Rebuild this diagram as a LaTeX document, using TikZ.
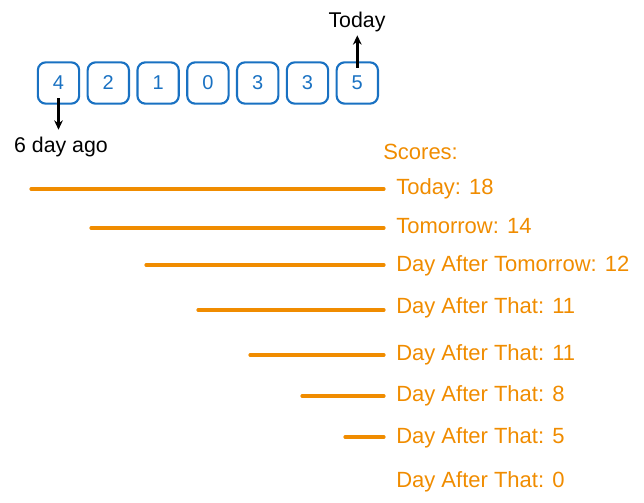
\documentclass[tikz,border=0pt]{standalone}
\usepackage{fontspec}
\setmainfont{Liberation Sans}
\usetikzlibrary{positioning,arrows.meta}
\definecolor{dayblue}{RGB}{25,113,194}
\definecolor{scoreorange}{RGB}{240,140,0}

\begin{document}
\begin{tikzpicture}[
      x=0.75pt, y=-0.75pt, >={Stealth[length=7pt,width=6.5pt]}, node distance=4.75pt,
      day/.style={draw=dayblue, line width=1.6pt, rounded corners=6pt,
                  minimum size=31pt, inner sep=0pt, text=dayblue,
                  font=\fontsize{15}{17}\selectfont},
      note/.style={font=\fontsize{16}{18}\selectfont, text=black},
      score/.style={anchor=west, inner sep=0pt, text=scoreorange,
                    text height=11pt, text depth=3pt,
                    font=\fontsize{16.5}{18}\selectfont},
      bar/.style={draw=scoreorange, line width=2.4pt, line cap=round,
                  shorten >=9pt},
      arr/.style={->, line width=1.8pt, draw=black}
    ]
    \useasboundingbox (0,0) rectangle (644,503);
    % last seven days
    \node[day] (d1) at (58.5,83) {4};
    \node[day, right=of d1] (d2) {2};
    \node[day, right=of d2] (d3) {1};
    \node[day, right=of d3] (d4) {0};
    \node[day, right=of d4] (d5) {3};
    \node[day, right=of d5] (d6) {3};
    \node[day, right=of d6] (d7) {5};
    \node[note] (today) at (357,22) {Today};
    \node[note] (ago) at (61,147) {6 day ago};
    \draw[arr, shorten <=-5pt, shorten >=2pt] (d1.south) -- (d1.south |- ago.north);
    \draw[arr, shorten <=-5pt, shorten >=-1pt] (d7.north) -- (d7.north |- today.south);
    % scores
    \node[score] (scores) at (383,154) {Scores:};
    \node[score] (l1) at (396,189) {Today: 18};
    \node[score] (l2) at (396,228) {Tomorrow: 14};
    \node[score] (l3) at (396,266) {Day After Tomorrow: 12};
    \node[score] (l4) at (396,308) {Day After That: 11};
    \node[score] (l5) at (396,355) {Day After That: 11};
    \node[score] (l6) at (396,396) {Day After That: 8};
    \node[score] (l7) at (396,438) {Day After That: 5};
    \node[score] (l8) at (396,482) {Day After That: 0};
    \coordinate (s1) at (31,189);
    \coordinate (s2) at (91,228);
    \coordinate (s3) at (146,265);
    \coordinate (s4) at (198,310);
    \coordinate (s5) at (250,355);
    \coordinate (s6) at (302,396);
    \coordinate (s7) at (345,437);
    \draw[bar] (s1) -- (s1 -| l1.west);
    \draw[bar] (s2) -- (s2 -| l2.west);
    \draw[bar] (s3) -- (s3 -| l3.west);
    \draw[bar] (s4) -- (s4 -| l4.west);
    \draw[bar] (s5) -- (s5 -| l5.west);
    \draw[bar] (s6) -- (s6 -| l6.west);
    \draw[bar] (s7) -- (s7 -| l7.west);
  \end{tikzpicture}
\end{document}
